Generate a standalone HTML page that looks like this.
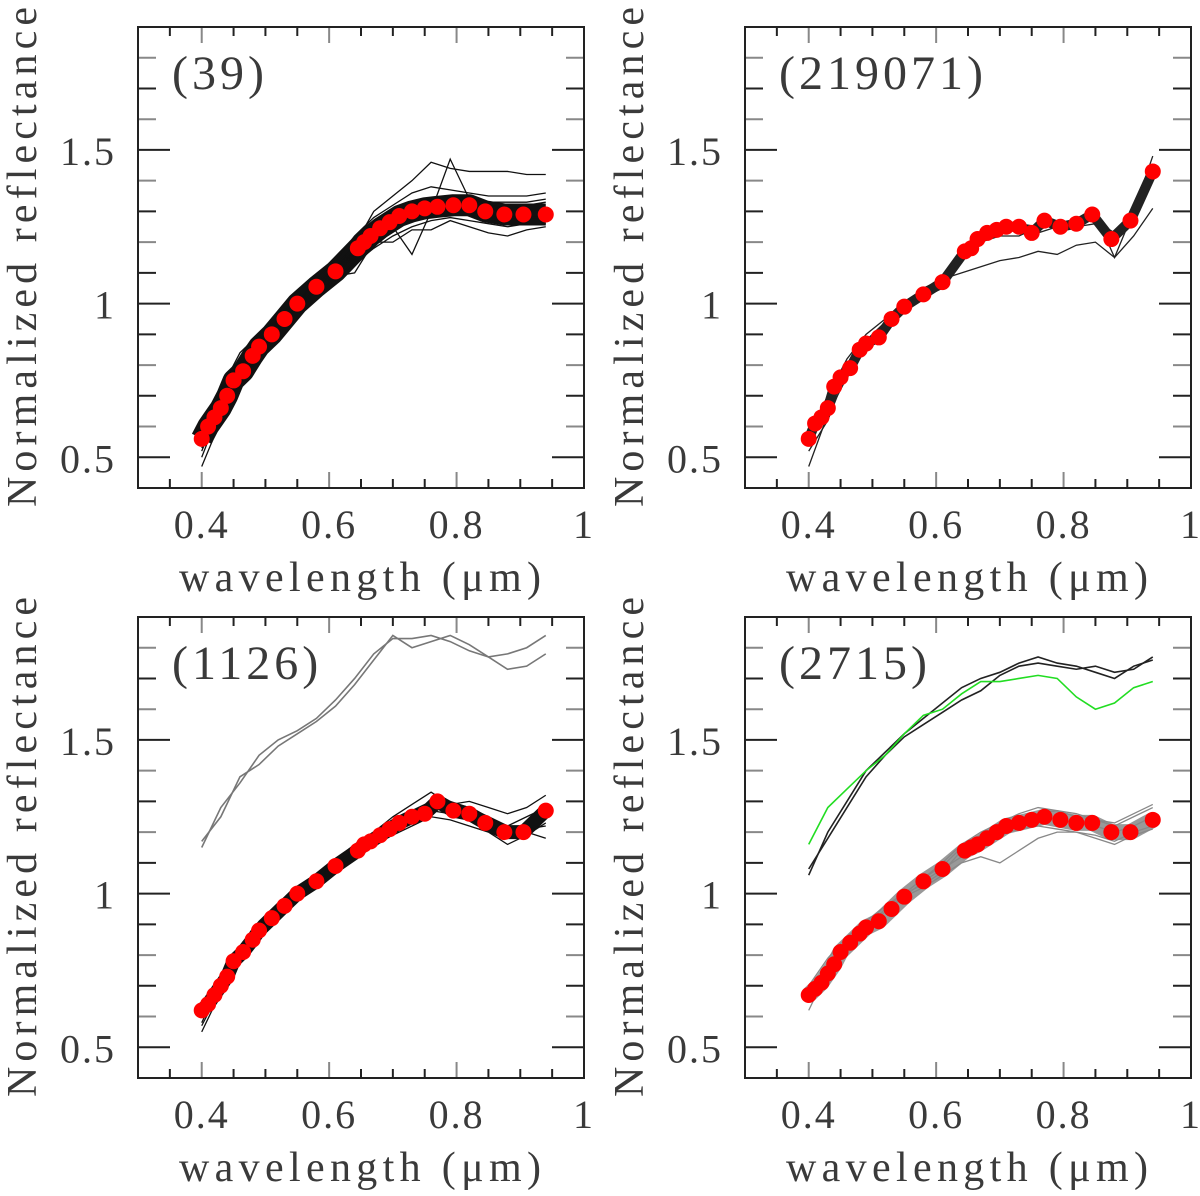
<!DOCTYPE html>
<html><head><meta charset="utf-8"><style>
html,body{margin:0;padding:0;background:#fff;}
svg{display:block;}
text{font-family:"Liberation Serif",serif;fill:#3a3a3a;}
</style></head><body>
<svg id="fig" width="1200" height="1196" viewBox="0 0 1200 1196" xmlns="http://www.w3.org/2000/svg"></svg>
<script>
// ---- data ----
const wlDots = [0.40,0.41,0.42,0.43,0.44,0.45,0.465,0.48,0.49,0.51,0.53,0.55,0.58,0.61,0.645,0.655,0.665,0.68,0.695,0.71,0.73,0.75,0.77,0.795,0.82,0.845,0.875,0.905,0.94];
const wlLines = [0.40,0.43,0.46,0.49,0.52,0.55,0.58,0.61,0.64,0.67,0.70,0.73,0.76,0.79,0.82,0.85,0.88,0.91,0.94];
const xTickLabels = ["0.4","0.6","0.8","1"];
const xTickValues = [0.4,0.6,0.8,1.0];
const yTickLabels = ["0.5","1","1.5"];
const yTickValues = [0.5,1.0,1.5];
const panelNames = ["(39)","(219071)","(1126)","(2715)"];

const dots39 = [0.56,0.60,0.63,0.66,0.70,0.75,0.78,0.83,0.86,0.90,0.95,1.0,1.055,1.105,1.18,1.20,1.22,1.245,1.265,1.285,1.30,1.31,1.315,1.32,1.32,1.30,1.29,1.29,1.29];
const dots219071 = [0.56,0.61,0.63,0.66,0.73,0.76,0.79,0.85,0.87,0.89,0.95,0.99,1.03,1.07,1.17,1.18,1.21,1.23,1.24,1.25,1.25,1.23,1.27,1.25,1.26,1.29,1.21,1.27,1.43];
const dots1126 = [0.62,0.64,0.67,0.70,0.73,0.78,0.81,0.85,0.88,0.92,0.96,1.0,1.04,1.09,1.14,1.16,1.17,1.19,1.21,1.23,1.25,1.26,1.30,1.27,1.26,1.23,1.20,1.20,1.27];
const dots2715 = [0.67,0.69,0.71,0.74,0.77,0.81,0.84,0.87,0.89,0.91,0.95,0.99,1.04,1.08,1.14,1.15,1.16,1.18,1.20,1.22,1.23,1.24,1.25,1.24,1.23,1.23,1.20,1.20,1.24];

const lines39 = [
[0.50,0.66,0.78,0.86,0.94,1.0,1.06,1.11,1.16,1.22,1.26,1.29,1.31,1.33,1.33,1.31,1.30,1.30,1.30],
[0.53,0.63,0.76,0.84,0.92,1.0,1.04,1.08,1.13,1.18,1.22,1.25,1.27,1.28,1.27,1.26,1.25,1.26,1.26],
[0.58,0.70,0.82,0.88,0.96,1.0,1.08,1.14,1.22,1.28,1.32,1.36,1.38,1.37,1.36,1.35,1.35,1.35,1.36],
[0.60,0.72,0.84,0.90,0.97,1.0,1.07,1.12,1.19,1.30,1.35,1.40,1.46,1.44,1.43,1.43,1.43,1.42,1.42],
[0.55,0.68,0.80,0.88,0.95,1.0,1.05,1.09,1.10,1.20,1.25,1.16,1.30,1.47,1.34,1.32,1.31,1.32,1.33],
[0.47,0.62,0.74,0.83,0.92,1.0,1.03,1.07,1.14,1.20,1.20,1.24,1.24,1.27,1.25,1.23,1.22,1.24,1.25],
[0.52,0.67,0.79,0.87,0.93,1.0,1.06,1.10,1.15,1.21,1.25,1.28,1.30,1.31,1.30,1.29,1.28,1.28,1.28],
[0.56,0.65,0.77,0.85,0.94,1.0,1.05,1.12,1.17,1.23,1.28,1.32,1.34,1.35,1.34,1.33,1.33,1.33,1.34]];
const lines219071 = [
[0.47,0.64,0.76,0.86,0.93,0.99,1.04,1.09,1.16,1.21,1.24,1.25,1.24,1.26,1.27,1.29,1.15,1.30,1.48],
[0.55,0.68,0.80,0.88,0.94,0.99,1.03,1.06,1.14,1.20,1.23,1.26,1.25,1.27,1.26,1.28,1.22,1.27,1.42],
[0.58,0.70,0.82,0.90,0.95,1.0,1.05,1.08,1.10,1.12,1.14,1.15,1.17,1.16,1.19,1.20,1.15,1.22,1.31],
[0.52,0.62,0.78,0.87,0.92,0.98,1.02,1.05,1.15,1.22,1.25,1.27,1.23,1.25,1.27,1.27,1.23,1.28,1.40],
[0.56,0.67,0.80,0.85,0.93,1.0,1.04,1.09,1.17,1.20,1.22,1.22,1.25,1.26,1.25,1.26,1.20,1.29,1.45]];
const lines1126 = [
[0.55,0.68,0.80,0.88,0.95,1.0,1.06,1.10,1.14,1.18,1.22,1.25,1.28,1.30,1.28,1.25,1.22,1.20,1.18],
[0.58,0.71,0.82,0.90,0.96,1.0,1.05,1.11,1.16,1.20,1.25,1.29,1.33,1.29,1.30,1.28,1.26,1.28,1.32],
[0.62,0.72,0.81,0.88,0.95,1.0,1.04,1.07,1.12,1.16,1.19,1.22,1.25,1.24,1.22,1.20,1.16,1.19,1.23],
[0.60,0.70,0.83,0.91,0.97,1.0,1.05,1.09,1.15,1.19,1.24,1.27,1.30,1.28,1.27,1.25,1.22,1.25,1.28],
[0.57,0.69,0.79,0.87,0.94,1.0,1.03,1.08,1.13,1.17,1.21,1.24,1.27,1.26,1.24,1.23,1.19,1.21,1.22]];
const high1126 = [
[1.15,1.28,1.36,1.45,1.50,1.53,1.57,1.63,1.70,1.78,1.83,1.83,1.84,1.82,1.79,1.77,1.78,1.80,1.84],
[1.17,1.25,1.38,1.42,1.48,1.52,1.56,1.61,1.68,1.76,1.84,1.80,1.82,1.84,1.81,1.77,1.73,1.74,1.78]];
const lines2715 = [
[0.62,0.75,0.85,0.90,0.96,1.0,1.05,1.10,1.16,1.20,1.23,1.26,1.28,1.27,1.26,1.24,1.23,1.26,1.29],
[0.65,0.74,0.83,0.89,0.95,0.99,1.02,1.06,1.10,1.12,1.10,1.14,1.18,1.20,1.20,1.18,1.16,1.19,1.21],
[0.70,0.79,0.86,0.91,0.96,1.0,1.05,1.09,1.15,1.19,1.22,1.23,1.25,1.24,1.23,1.22,1.20,1.22,1.25],
[0.68,0.77,0.84,0.90,0.94,0.99,1.04,1.08,1.12,1.17,1.20,1.24,1.26,1.27,1.25,1.24,1.22,1.25,1.28],
[0.66,0.73,0.82,0.88,0.95,1.0,1.03,1.07,1.14,1.16,1.19,1.21,1.22,1.21,1.20,1.19,1.17,1.20,1.22]];
const high2715 = [
[1.06,1.20,1.30,1.40,1.46,1.52,1.57,1.62,1.67,1.70,1.72,1.75,1.77,1.75,1.74,1.72,1.70,1.74,1.76],
[1.08,1.18,1.28,1.38,1.45,1.51,1.55,1.59,1.63,1.66,1.71,1.74,1.75,1.74,1.73,1.74,1.72,1.73,1.77]];
const green2715 = [1.16,1.28,1.34,1.40,1.45,1.52,1.58,1.60,1.65,1.69,1.69,1.70,1.71,1.70,1.64,1.60,1.62,1.67,1.69];

// ---- drawing ----
const NS = "http://www.w3.org/2000/svg";
const svg = document.getElementById("fig");
function mk(tag, attrs, parent){
  const e = document.createElementNS(NS, tag);
  for (const k in attrs) e.setAttribute(k, attrs[k]);
  parent.appendChild(e); return e;
}
const W = 446, H = 461;
function panel(px, py, idx, dots, blackLines, bandColor, bandWidth, lineColor, extraLines){
  const g = mk("g", {}, svg);
  
  
  const xs = v => px + (v - 0.3) / 0.7 * W;
  const ys = v => py + H - (v - 0.4) / 1.5 * H;
  for (let i = 7; i <= 19; i++) {
    const v = i * 0.05, x = xs(v), major = (i % 4 === 0);
    const len = major ? 16 : 9, col = major ? "#888" : "#222";
    const t1 = mk("line", {x1:x, y1:py+H, x2:x, y2:py+H-len, stroke:col, "stroke-width":2}, g);
    
    
    const t2 = mk("line", {x1:x, y1:py, x2:x, y2:py+len, stroke:col, "stroke-width":2}, g);
    
    
  }
  for (let i = 5; i <= 18; i++) {
    const v = i * 0.1, y = ys(v), major = (i % 5 === 0);
    const len = major ? 32 : 18, col = (i%2===0 && !major) ? "#888" : "#222";
    const t1 = mk("line", {x1:px, y1:y, x2:px+len, y2:y, stroke:col, "stroke-width":2}, g);
    
    
    const t2 = mk("line", {x1:px+W, y1:y, x2:px+W-len, y2:y, stroke:col, "stroke-width":2}, g);
    
    
  }
  xTickValues.forEach((v, i) => {
    const t = mk("text", {x:xs(v), y:py+H+50, "text-anchor":"middle", "font-size":40, "letter-spacing":"2"}, g);
    t.textContent = xTickLabels[i];
    
    
  });
  yTickValues.forEach((v, i) => {
    const t = mk("text", {x:px-22, y:ys(v)+15, "text-anchor":"end", "font-size":40, "letter-spacing":"2"}, g);
    t.textContent = yTickLabels[i];
    
    
  });
  const xl = mk("text", {x:px+222, y:py+H+103, "text-anchor":"middle", "font-size":42, textLength:362, lengthAdjust:"spacing"}, g);
  xl.textContent = "wavelength (μm)";
  
  
  const yl = mk("text", {x:0, y:0, "text-anchor":"middle", "font-size":42, textLength:500, lengthAdjust:"spacing", transform:`translate(${px-102},${py+230}) rotate(-90)`}, g);
  yl.textContent = "Normalized reflectance";
  
  
  const pl = mk("text", {x:px+34, y:py+62, "font-size":48, "letter-spacing":"4"}, g);
  pl.textContent = panelNames[idx];
  
  
  extraLines.forEach(el => {
    const p = mk("polyline", {points: el.data.map((v,i)=>xs(wlLines[i])+","+ys(v)).join(" "), fill:"none", stroke:el.color, "stroke-width":1.6}, g);
    
    
  });
  const band = mk("polyline", {points: dots.map((v,i)=>xs(wlDots[i])+","+ys(v)).join(" "), fill:"none", stroke:bandColor, "stroke-width":bandWidth, "stroke-linejoin":"round"}, g);
  
  
  blackLines.forEach(d => {
    const p = mk("polyline", {points: d.map((v,i)=>xs(wlLines[i])+","+ys(v)).join(" "), fill:"none", stroke:lineColor, "stroke-width":1.3}, g);
    
    
  });
  dots.forEach((v, i) => {
    const c = mk("circle", {cx:xs(wlDots[i]), cy:ys(v), r:8, fill:"#ff0000"}, g);
    
    
  });
  const box = mk("rect", {x:px, y:py, width:W, height:H, fill:"none", stroke:"#222", "stroke-width":2}, g);
  
  
}
panel(138, 27, 0, dots39, lines39, "#111", 22, "#111", []);
panel(745, 27, 1, dots219071, lines219071, "#222", 10, "#222", []);
panel(138, 617, 2, dots1126, lines1126, "#111", 14, "#111", high1126.map(d=>({data:d, color:"#777"})));
panel(745, 617, 3, dots2715, lines2715, "#999", 16, "#888",
  high2715.map(d=>({data:d, color:"#222"})).concat([{data:green2715, color:"#22dd22"}]));
</script>
</body></html>
